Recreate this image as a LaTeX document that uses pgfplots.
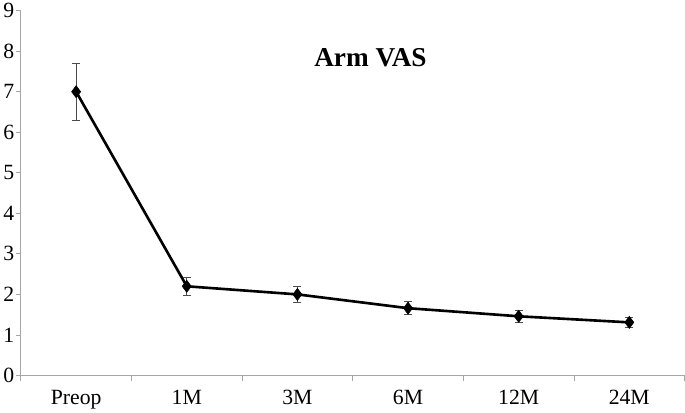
\documentclass[border=0pt]{standalone}
\usepackage{fontspec}
\setmainfont{Liberation Serif}
\usepackage{pgfplots}
\pgfplotsset{compat=1.18}
\begin{document}
\begin{tikzpicture}[x=1bp,y=1bp]
\begin{axis}[
  scale only axis,
  width=655bp, height=360bp,
  xmin=-0.5, xmax=5.5, ymin=0, ymax=9,
  axis x line*=bottom, axis y line*=left,
  axis line style={draw=gray!70, line width=0.8pt},
  xtick={0,1,2,3,4,5},
  xticklabels={Preop,1M,3M,6M,12M,24M},
  major x tick style={draw=none},
  minor xtick={-0.5,0.5,1.5,2.5,3.5,4.5,5.5},
  minor x tick style={draw=gray!70, line width=0.8pt},
  minor tick length=5bp,
  ytick={0,1,...,9},
  y tick style={draw=gray!70, line width=0.8pt},
  major tick length=5bp,
  tick align=outside,
  /pgf/number format/assume math mode=true,
  tick label style={font=\fontsize{21.5}{24}\selectfont},
  xticklabel style={yshift=-6bp},
  yticklabel style={xshift=2bp},
  clip=false,
]
\addplot[black, line width=2.6pt, mark=diamond*, mark size=6bp,
  mark options={solid, fill=black, line width=0.5pt},
  error bars/.cd, y dir=both, y explicit,
  error bar style={draw=gray!60!black, line width=0.8pt},
  error mark options={rotate=90, mark size=4bp, draw=gray!60!black, line width=0.8pt}]
  coordinates {
  (0,7.0) +- (0,0.70)
  (1,2.2) +- (0,0.23)
  (2,2.0) +- (0,0.20)
  (3,1.66) +- (0,0.16)
  (4,1.46) +- (0,0.14)
  (5,1.31) +- (0,0.12)
  };
\node[font=\bfseries\fontsize{27}{30}\selectfont] at (axis cs:2.66,7.85) {Arm VAS};
\end{axis}
\end{tikzpicture}
\end{document}
